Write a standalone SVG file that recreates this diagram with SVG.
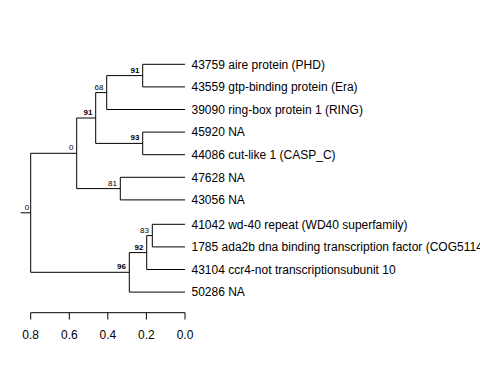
<svg xmlns="http://www.w3.org/2000/svg" width="480" height="384" viewBox="0 0 480 384">
<style>
.e{stroke:#000;stroke-width:1;fill:none}
.lf{font-family:"Liberation Sans",Arial,sans-serif;font-size:12px;fill:#000}
.bs{font-family:"Liberation Sans",Arial,sans-serif;font-size:8px;fill:#000;text-anchor:end}
.b{font-weight:bold}
.ax{font-family:"Liberation Sans",Arial,sans-serif;font-size:12px;fill:#000;text-anchor:middle}
</style>
<rect width="480" height="384" fill="#fff"/>
<g id="connectors">
<path class="e" d="M20.7,212.8H30.7M30.7,153.3V272.3M30.7,153.3H76.7M30.7,272.3H129.3
M76.7,118V188.6M76.7,118H95.7M76.7,188.6H120.3
M95.7,92.6V143.4M95.7,92.6H106.7M95.7,143.4H142.7
M106.7,75.6V109.5M106.7,75.6H142.7M106.7,109.5H185
M142.7,64.3V86.9M142.7,64.3H185M142.7,86.9H185
M142.7,132.1V154.7M142.7,132.1H185M142.7,154.7H185
M120.3,177.3V199.9M120.3,177.3H185M120.3,199.9H185
M129.3,252.6V292.1M129.3,252.6H146.7M129.3,292.1H185
M146.7,235.6V269.5M146.7,235.6H152.3M146.7,269.5H185
M152.3,224.3V246.9M152.3,224.3H185M152.3,246.9H185"/>
</g>
<g id="bootstrap">
<text class="bs" x="29.3" y="209.8">0</text>
<text class="bs" x="73.4" y="150.3">0</text>
<text class="bs b" x="92.4" y="115">91</text>
<text class="bs" x="103.4" y="89.6">68</text>
<text class="bs b" x="139.4" y="72.6">91</text>
<text class="bs b" x="139.4" y="140.4">93</text>
<text class="bs" x="117" y="185.6">81</text>
<text class="bs b" x="126" y="269.3">96</text>
<text class="bs b" x="143.4" y="249.6">92</text>
<text class="bs" x="149" y="232.6">83</text>
</g>
<g id="leaves">
<text class="lf" x="191.5" y="68.6">43759 aire protein (PHD)</text>
<text class="lf" x="191.5" y="91.2">43559 gtp-binding protein (Era)</text>
<text class="lf" x="191.5" y="113.8">39090 ring-box protein 1 (RING)</text>
<text class="lf" x="191.5" y="136.4">45920 NA</text>
<text class="lf" x="191.5" y="159">44086 cut-like 1 (CASP_C)</text>
<text class="lf" x="191.5" y="181.6">47628 NA</text>
<text class="lf" x="191.5" y="204.2">43056 NA</text>
<text class="lf" x="191.5" y="228.6">41042 wd-40 repeat (WD40 superfamily)</text>
<text class="lf" x="191.5" y="251.2">1785 ada2b dna binding transcription factor (COG5114)</text>
<text class="lf" x="191.5" y="273.8">43104 ccr4-not transcriptionsubunit 10</text>
<text class="lf" x="191.5" y="296.4">50286 NA</text>
</g>
<g id="axis">
<path class="e" d="M30.7,312.7H185M30.7,312.7V319.5M69.3,312.7V319.5M107.8,312.7V319.5M146.4,312.7V319.5M185,312.7V319.5"/>
<text class="ax" x="30.7" y="338.5">0.8</text>
<text class="ax" x="69.3" y="338.5">0.6</text>
<text class="ax" x="107.8" y="338.5">0.4</text>
<text class="ax" x="146.4" y="338.5">0.2</text>
<text class="ax" x="185" y="338.5">0.0</text>
</g>
</svg>
